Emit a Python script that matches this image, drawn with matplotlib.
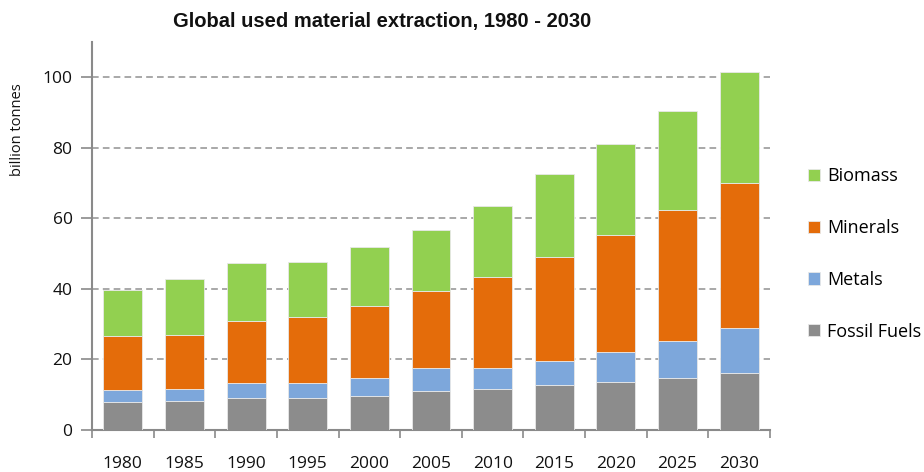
import matplotlib
matplotlib.use("Agg")
import matplotlib.pyplot as plt
import numpy as np

years = ["1980", "1985", "1990", "1995", "2000", "2005", "2010", "2015", "2020", "2025", "2030"]
fossil = [7.9, 8.1, 9.2, 9.2, 9.5, 11.1, 11.5, 12.8, 13.6, 14.8, 16.1]
metals_top = [11.2, 11.7, 13.3, 13.3, 14.7, 17.6, 17.5, 19.6, 22.2, 25.2, 29.0]
minerals_top = [26.6, 27.0, 31.0, 32.1, 35.1, 39.3, 43.5, 49.0, 55.4, 62.3, 70.0]
total = [39.8, 42.9, 47.3, 47.6, 51.8, 56.8, 63.5, 72.5, 81.0, 90.5, 101.5]

metals = [b - a for a, b in zip(fossil, metals_top)]
minerals = [b - a for a, b in zip(metals_top, minerals_top)]
biomass = [b - a for a, b in zip(minerals_top, total)]

series_names = ["Fossil Fuels", "Metals", "Minerals", "Biomass"]
series_values = [fossil, metals, minerals, biomass]
colors = ["#8C8C8C", "#7DA7DB", "#E46C0A", "#92D050"]

W, H = 924, 472
fig = plt.figure(figsize=(W / 100, H / 100), dpi=100)
ax = fig.add_axes([92 / W, 1 - 430 / H, (770 - 92) / W, (430 - 42) / H])

x = np.arange(len(years))
bottom = np.zeros(len(years))
handles = []
for name, vals, c in zip(series_names, series_values, colors):
    h = ax.bar(x, vals, width=0.63, bottom=bottom, color=c, edgecolor="#e8e8e8",
               linewidth=0.6, label=name, zorder=3)
    handles.append(h)
    bottom += np.array(vals)

ax.set_xlim(-0.5, len(years) - 0.5)
ax.set_ylim(0, 110)
ax.set_yticks([0, 20, 40, 60, 80, 100])
for yv in [20, 40, 60, 80, 100]:
    ax.axhline(yv, color="#9a9a9a", linestyle=(0, (4, 2.5)), linewidth=1.2, zorder=1)

ax.set_xticks(x)
ax.set_xticklabels(years)
ax.set_xticks(np.arange(-0.5, len(years), 1), minor=True)
ax.tick_params(axis="x", which="major", length=0, pad=19, labelsize=12.5, labelcolor="#111111")
ax.tick_params(axis="x", which="minor", length=6, width=1.2, color="#8a8a8a", direction="out")
ax.tick_params(axis="y", length=8, width=1.2, color="#8a8a8a", direction="out",
               labelsize=12.5, labelcolor="#111111", pad=6)
for lab in ax.get_xticklabels() + ax.get_yticklabels():
    lab.set_family(["Open Sans", "DejaVu Sans"])

for s in ["top", "right"]:
    ax.spines[s].set_visible(False)
for s in ["left", "bottom"]:
    ax.spines[s].set_color("#8a8a8a")
    ax.spines[s].set_linewidth(1.5)

fig.text(18 / W, 1 - 130 / H, "billion tonnes", rotation=90, ha="center", va="center",
         fontsize=10.5, family=["Open Sans", "DejaVu Sans"], color="#111111")
fig.text(382 / W, 1 - 22 / H, "Global used material extraction, 1980 - 2030",
         ha="center", va="center", fontsize=14.5, fontweight="bold",
         family=["Liberation Sans", "DejaVu Sans"], color="#111111")

leg = fig.legend(handles[::-1], series_names[::-1], loc="center left",
                 bbox_to_anchor=(808 / W, 1 - 254 / H), frameon=False,
                 prop={"family": ["Open Sans", "DejaVu Sans"], "size": 13},
                 handlelength=0.67, handleheight=0.67, handletextpad=0.4,
                 labelspacing=1.87, borderpad=0, borderaxespad=0)

fig.savefig("out.png", dpi=100)
